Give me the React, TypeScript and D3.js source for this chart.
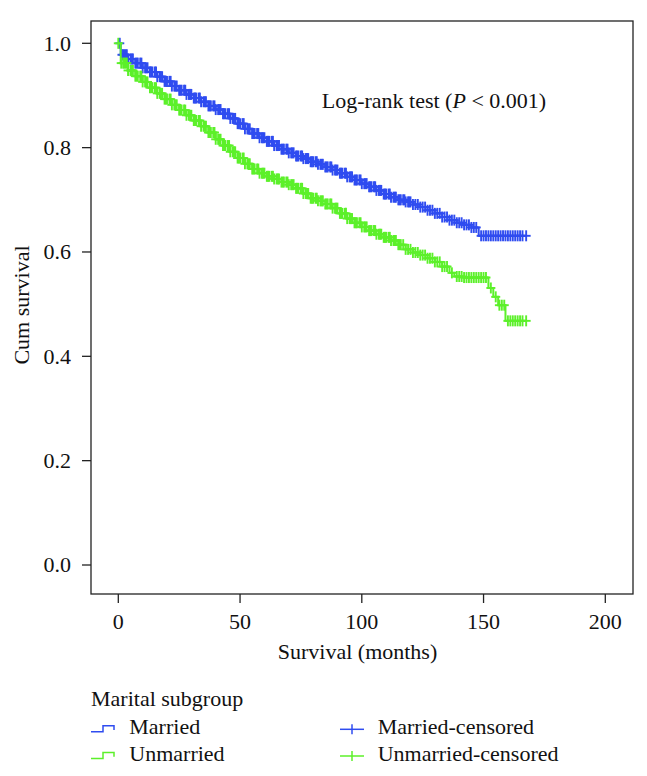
import React from "react";
import * as d3 from "d3";

// ---- Data ----
const marriedTimes = [0, 1, 4, 7, 10, 13, 16, 19, 22, 25, 28, 31, 34, 37, 40, 43, 46, 49, 52, 55, 58, 61, 64, 67, 70, 73, 76, 79, 82, 85, 88, 91, 94, 97, 100, 103, 106, 109, 112, 115, 118, 121, 124, 127, 130, 133, 136, 139, 142, 145, 148];
const marriedSurv = [1.0, 0.978, 0.970, 0.962, 0.953, 0.945, 0.936, 0.927, 0.918, 0.910, 0.902, 0.895, 0.888, 0.880, 0.873, 0.865, 0.856, 0.846, 0.836, 0.827, 0.819, 0.812, 0.804, 0.797, 0.790, 0.784, 0.779, 0.773, 0.768, 0.763, 0.757, 0.751, 0.744, 0.738, 0.731, 0.725, 0.718, 0.711, 0.705, 0.700, 0.696, 0.691, 0.686, 0.680, 0.674, 0.667, 0.661, 0.656, 0.652, 0.647, 0.631];
const marriedCensored = [0.6, 1.5, 2, 2.5, 3, 3.5, 4, 5, 5.5, 6, 7, 7.5, 8, 9, 9.5, 10, 11, 11.5, 12, 13, 13.5, 14, 15, 15.5, 16, 17, 17.5, 18, 19, 19.5, 20, 21, 21.5, 22, 23, 23.5, 24, 25, 25.5, 26, 27, 27.5, 28, 29, 29.5, 30, 31, 31.5, 32, 33, 33.5, 34, 35, 35.5, 36, 37, 37.5, 38, 39, 39.5, 40, 41, 41.5, 42, 43, 43.5, 44, 45, 45.5, 46, 47, 47.5, 48, 49, 49.5, 50, 51, 51.5, 52, 53, 53.5, 54, 55, 55.5, 56, 57, 57.5, 58, 59, 59.5, 60, 61, 61.5, 62, 63, 63.5, 64, 65, 65.5, 66, 67, 67.5, 68, 69, 69.5, 70, 71, 71.5, 72, 73, 73.5, 74, 75, 75.5, 76, 77, 77.5, 78, 79, 79.5, 80, 81, 81.5, 82, 83, 83.5, 84, 85, 85.5, 86, 87, 87.5, 88, 89, 89.5, 90, 91, 91.5, 92, 93, 93.5, 94, 95, 95.5, 96, 97, 97.5, 98, 99, 99.5, 100, 101, 101.5, 102, 103, 103.5, 104, 105, 105.5, 106, 107, 107.5, 108, 109, 109.5, 110, 111, 111.5, 112, 113, 113.5, 114, 115, 115.5, 116, 117, 117.5, 118, 119, 119.5, 120, 121, 122, 123, 124, 125, 126, 127, 128, 129, 130, 131, 132, 133, 134, 135, 136, 137, 138, 139, 140, 141, 142, 143, 144, 145, 146, 147, 149, 150, 151, 152, 153, 154, 155, 156, 157, 158, 159, 160, 161, 162, 163, 164, 165, 166, 167.5];

const unmarriedTimes = [0, 1, 4, 7, 10, 13, 16, 19, 22, 25, 28, 31, 34, 37, 40, 43, 46, 49, 52, 55, 58, 61, 64, 67, 70, 73, 76, 79, 82, 85, 88, 91, 94, 97, 100, 103, 106, 109, 112, 115, 118, 121, 124, 127, 130, 133, 136, 138, 142, 152, 154, 156, 159];
const unmarriedSurv = [1.0, 0.962, 0.948, 0.937, 0.926, 0.915, 0.904, 0.893, 0.882, 0.872, 0.862, 0.852, 0.841, 0.829, 0.816, 0.804, 0.792, 0.780, 0.769, 0.759, 0.751, 0.745, 0.740, 0.734, 0.729, 0.722, 0.712, 0.703, 0.698, 0.692, 0.684, 0.674, 0.664, 0.656, 0.648, 0.641, 0.634, 0.628, 0.622, 0.614, 0.605, 0.599, 0.594, 0.588, 0.581, 0.572, 0.560, 0.553, 0.551, 0.531, 0.514, 0.498, 0.468];
const unmarriedCensored = [0, 1.2, 2, 2.5, 3, 3.5, 4, 5, 5.5, 6, 7, 7.5, 8, 9, 9.5, 10, 11, 11.5, 12, 13, 13.5, 14, 15, 15.5, 16, 17, 17.5, 18, 19, 19.5, 20, 21, 21.5, 22, 23, 23.5, 24, 25, 25.5, 26, 27, 27.5, 28, 29, 29.5, 30, 31, 31.5, 32, 33, 33.5, 34, 35, 35.5, 36, 37, 37.5, 38, 39, 39.5, 40, 41, 41.5, 42, 43, 43.5, 44, 45, 45.5, 46, 47, 47.5, 48, 49, 49.5, 50, 51, 51.5, 52, 53, 53.5, 54, 55, 55.5, 56, 57, 57.5, 58, 59, 59.5, 60, 61, 61.5, 62, 63, 63.5, 64, 65, 65.5, 66, 67, 67.5, 68, 69, 69.5, 70, 71, 71.5, 72, 73, 73.5, 74, 75, 75.5, 76, 77, 77.5, 78, 79, 79.5, 80, 81, 81.5, 82, 83, 83.5, 84, 85, 85.5, 86, 87, 87.5, 88, 89, 89.5, 90, 91, 91.5, 92, 93, 93.5, 94, 95, 95.5, 96, 97, 97.5, 98, 99, 99.5, 100, 101, 101.5, 102, 103, 103.5, 104, 105, 105.5, 106, 107, 107.5, 108, 109, 109.5, 110, 111, 111.5, 112, 113, 113.5, 114, 115, 115.5, 116, 117, 118, 119, 120, 121, 122, 123, 124, 125, 126, 127, 128, 129, 130, 131, 132, 133, 134, 135, 137, 139, 140, 141, 142, 143, 144, 145, 146, 147, 148, 149, 150, 151, 153, 155, 156.5, 157.5, 158.5, 160, 161, 162, 163, 164, 165, 166, 167.5];

const xTicks = [0, 50, 100, 150, 200];
const yTicks = [0.0, 0.2, 0.4, 0.6, 0.8, 1.0];

const BLUE = "#2f4cf0";
const GREEN = "#5cf02a";
const FONT = "'Liberation Serif', 'DejaVu Serif', serif";

const x = d3.scaleLinear().domain([0, 200]).range([118.3, 605.3]);
const y = d3.scaleLinear().domain([0, 1]).range([565, 43.3]);

function stepAt(times: number[], surv: number[], t: number) {
  const i = d3.bisectRight(times, t) - 1;
  return surv[Math.max(0, i)];
}

function Series({ times, surv, censored, color }: { times: number[]; surv: number[]; censored: number[]; color: string }) {
  const endT = d3.max(censored) as number;
  const pts: [number, number][] = times.map((t, i) => [t, surv[i]]);
  pts.push([endT, surv[surv.length - 1]]);
  const line = d3
    .line<[number, number]>()
    .x((d) => x(d[0]))
    .y((d) => y(d[1]))
    .curve(d3.curveStepAfter);
  return (
    <g>
      <path d={line(pts) || ""} fill="none" stroke={color} strokeWidth={2} />
      {censored.map((t, i) => {
        const cx = x(t);
        const cy = y(stepAt(times, surv, t));
        return (
          <g key={i} stroke={color} strokeWidth={1.9}>
            <line x1={cx - 4.5} x2={cx + 4.5} y1={cy} y2={cy} />
            <line x1={cx} x2={cx} y1={cy - 5.5} y2={cy + 5.5} />
          </g>
        );
      })}
    </g>
  );
}

export default function App() {
  const left = 91, right = 633, top = 21, bottom = 594;
  const fs = 22;
  return (
    <svg width={647} height={776} style={{ position: "absolute", left: 0, top: 0, background: "#fff" }} fontFamily={FONT}>
      <rect x={0} y={0} width={647} height={776} fill="#fff" />
      {/* frame */}
      <rect x={left} y={top} width={right - left} height={bottom - top} fill="none" stroke="#222" strokeWidth={1.3} />
      {/* y ticks */}
      {yTicks.map((v) => (
        <g key={"y" + v}>
          <line x1={82} x2={left} y1={y(v)} y2={y(v)} stroke="#222" strokeWidth={1.3} />
          <text x={71} y={y(v) + 7.3} textAnchor="end" fontSize={fs} fill="#111">
            {v.toFixed(1)}
          </text>
        </g>
      ))}
      {/* x ticks */}
      {xTicks.map((v) => (
        <g key={"x" + v}>
          <line x1={x(v)} x2={x(v)} y1={bottom} y2={603} stroke="#222" strokeWidth={1.3} />
          <text x={x(v)} y={628.5} textAnchor="middle" fontSize={fs} fill="#111">
            {v}
          </text>
        </g>
      ))}
      <text x={357.5} y={659} textAnchor="middle" fontSize={fs} fill="#111">
        Survival (months)
      </text>
      <text transform="translate(29,305) rotate(-90)" textAnchor="middle" fontSize={fs} fill="#111">
        Cum survival
      </text>
      <text x={321.7} y={108} fontSize={fs} fill="#111">
        Log-rank test (<tspan fontStyle="italic">P</tspan> &lt; 0.001)
      </text>

      <Series times={marriedTimes} surv={marriedSurv} censored={marriedCensored} color={BLUE} />
      <Series times={unmarriedTimes} surv={unmarriedSurv} censored={unmarriedCensored} color={GREEN} />

      {/* legend */}
      <text x={91} y={706} fontSize={fs} fill="#111">Marital subgroup</text>
      {[
        { label: "Married", c: BLUE, yy: 734 },
        { label: "Unmarried", c: GREEN, yy: 760.7 },
      ].map((d) => (
        <g key={d.label}>
          <path
            d={`M91,${d.yy - 2.3} H103 V${d.yy - 8.3} H114 V${d.yy - 4}`}
            fill="none"
            stroke={d.c}
            strokeWidth={1.5}
          />
          <text x={129.3} y={d.yy} fontSize={fs} fill="#111">{d.label}</text>
          <line x1={340} x2={364} y1={d.yy - 4.7} y2={d.yy - 4.7} stroke={d.c} strokeWidth={1.5} />
          <line x1={352} x2={352} y1={d.yy - 9.7} y2={d.yy + 0.3} stroke={d.c} strokeWidth={1.5} />
          <text x={377.7} y={d.yy} fontSize={fs} fill="#111">{d.label}-censored</text>
        </g>
      ))}
    </svg>
  );
}
